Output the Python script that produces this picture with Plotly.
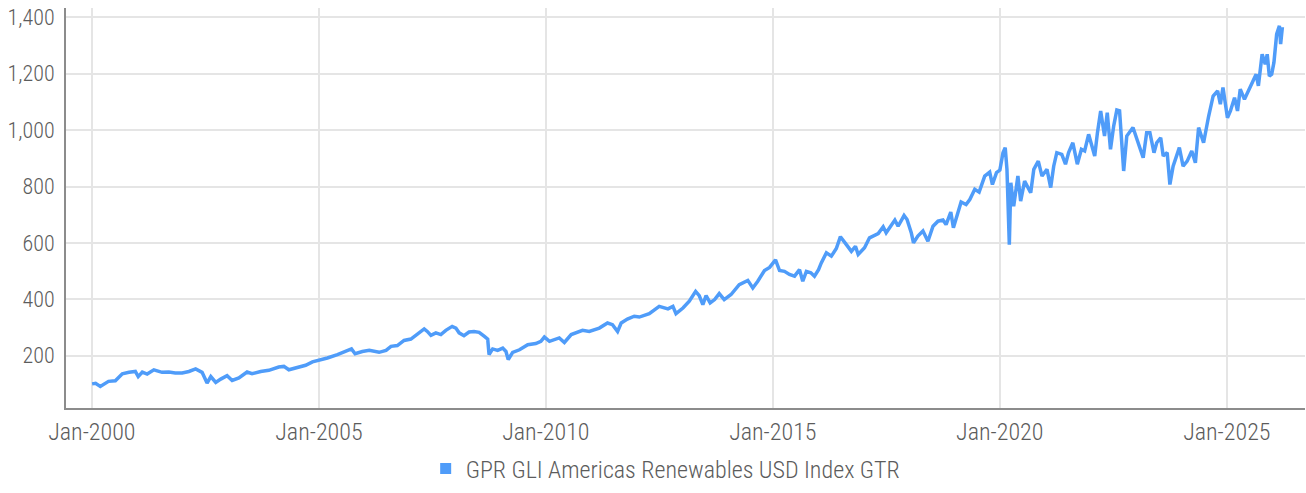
import plotly.graph_objects as go

SERIES_NAME = "GPR GLI Americas Renewables USD Index GTR"

dates = [
    "2000-01-03", "2000-01-31", "2000-03-09", "2000-05-14", "2000-07-08", "2000-09-02", "2000-10-26", "2000-12-16",
    "2001-01-08", "2001-02-10", "2001-03-21", "2001-05-14", "2001-07-19", "2001-09-12", "2001-11-02", "2001-12-28",
    "2002-02-20", "2002-04-15", "2002-06-06", "2002-07-16", "2002-08-15", "2002-09-24", "2002-11-03", "2002-12-24",
    "2003-02-03", "2003-03-29", "2003-06-03", "2003-07-13", "2003-09-20", "2003-11-25",
    "2004-02-13", "2004-03-25", "2004-05-04", "2004-07-12", "2004-09-16", "2004-11-10", "2004-12-28",
    "2005-03-10", "2005-05-30", "2005-07-24", "2005-09-20", "2005-10-19", "2005-12-16",
    "2006-02-10", "2006-03-21", "2006-04-30", "2006-06-25", "2006-08-04", "2006-09-24", "2006-11-17",
    "2007-01-11", "2007-03-04", "2007-04-28", "2007-05-23", "2007-06-21", "2007-07-31", "2007-09-09", "2007-10-19", "2007-12-09",
    "2008-01-08", "2008-02-03", "2008-03-13", "2008-04-23", "2008-06-02", "2008-07-13", "2008-08-22", "2008-09-20",
    "2008-10-01", "2008-10-30", "2008-12-09",
    "2009-01-19", "2009-02-14", "2009-03-04", "2009-04-09", "2009-06-03", "2009-08-08", "2009-10-12", "2009-11-22", "2009-12-20",
    "2010-01-30", "2010-04-19", "2010-05-30", "2010-07-24", "2010-10-23", "2010-12-16",
    "2011-03-07", "2011-05-12", "2011-06-21", "2011-08-01", "2011-08-30", "2011-10-19", "2011-12-13",
    "2012-01-23", "2012-04-12", "2012-07-01", "2012-09-09", "2012-10-19", "2012-11-13",
    "2013-01-08", "2013-02-28", "2013-04-20", "2013-05-19", "2013-06-17", "2013-07-13", "2013-08-15", "2013-09-20", "2013-10-27", "2013-12-06",
    "2014-01-30", "2014-04-06", "2014-06-14", "2014-07-24", "2014-09-02", "2014-10-26", "2014-12-06",
    "2015-01-23", "2015-02-24", "2015-04-05", "2015-05-15", "2015-06-25", "2015-08-04", "2015-08-30", "2015-09-28", "2015-11-03", "2015-12-02",
    "2016-01-04", "2016-01-26", "2016-03-07", "2016-04-16", "2016-05-26", "2016-06-28", "2016-08-15", "2016-09-24", "2016-10-27", "2016-11-18",
    "2017-01-08", "2017-02-17", "2017-04-28", "2017-06-07", "2017-07-01", "2017-09-09", "2017-10-05", "2017-11-22", "2017-12-16",
    "2018-01-19", "2018-02-06", "2018-03-13", "2018-04-23", "2018-06-02", "2018-07-13", "2018-08-22", "2018-10-01", "2018-10-26", "2018-12-03", "2018-12-24",
    "2019-02-24", "2019-04-05", "2019-05-05", "2019-06-14", "2019-07-19", "2019-09-02", "2019-10-12", "2019-11-03", "2019-12-06",
    "2020-01-02", "2020-01-27", "2020-02-14", "2020-02-28", "2020-03-18", "2020-03-30", "2020-04-22", "2020-05-26", "2020-06-17",
    "2020-07-19", "2020-09-06", "2020-10-01", "2020-11-06", "2020-12-06",
    "2021-01-15", "2021-02-14", "2021-03-10", "2021-04-04", "2021-05-14", "2021-06-13", "2021-07-08", "2021-08-11", "2021-09-16",
    "2021-10-19", "2021-11-14", "2021-12-16",
    "2022-02-03", "2022-02-25", "2022-03-23", "2022-04-23", "2022-05-15", "2022-06-10", "2022-07-06", "2022-07-31", "2022-08-22",
    "2022-09-24", "2022-10-19", "2022-12-08",
    "2023-01-18", "2023-02-28", "2023-03-28", "2023-04-23", "2023-05-26", "2023-06-17", "2023-07-19", "2023-08-08", "2023-09-09",
    "2023-10-01", "2023-10-27", "2023-12-16",
    "2024-01-15", "2024-02-17", "2024-03-25", "2024-04-23", "2024-05-19", "2024-06-06", "2024-06-28", "2024-08-08", "2024-09-13",
    "2024-10-19", "2024-11-10", "2024-12-01",
    "2025-01-06", "2025-01-30", "2025-03-04", "2025-03-28", "2025-04-19", "2025-05-23", "2025-06-17", "2025-07-24", "2025-08-25",
    "2025-09-12", "2025-10-12", "2025-11-06", "2025-11-22", "2025-12-09", "2025-12-28",
    "2026-01-15", "2026-02-06", "2026-02-28", "2026-03-10", "2026-03-24",
]

index_values = [
    100, 102, 91, 109, 111, 136, 141, 144,
    126, 142, 135, 150, 141, 142, 139, 139,
    144, 153, 141, 103, 126, 105, 117, 129,
    112, 121, 142, 136, 144, 148,
    160, 162, 150, 158, 166, 178, 183,
    192, 204, 215, 224, 207, 215,
    219, 215, 212, 219, 233, 236, 254,
    259, 275, 295, 286, 272, 281, 275, 290, 304,
    298, 281, 271, 284, 286, 283, 269, 259,
    204, 224, 219,
    227, 215, 186, 212, 221, 239, 243, 251, 266,
    251, 263, 247, 275, 290, 286,
    298, 316, 310, 286, 316, 330, 340,
    337, 349, 375, 366, 375, 349,
    369, 393, 428, 413, 381, 413, 387, 399, 420, 399,
    417, 452, 467, 440, 464, 502, 513,
    540, 502, 499, 488, 482, 505, 464, 499, 494, 482,
    505, 529, 565, 553, 580, 622, 594, 570, 588, 559,
    583, 618, 633, 657, 636, 681, 659, 697, 683,
    636, 600, 624, 642, 606, 659, 677, 681, 665, 709, 654,
    745, 736, 754, 790, 780, 837, 851, 807, 849,
    858, 920, 938, 861, 594, 813, 730, 837, 748,
    819, 778, 861, 890, 837,
    861, 796, 872, 920, 914, 879, 920, 955, 879,
    932, 926, 985,
    908, 991, 1068, 979, 1062, 932, 1015, 1071, 1068,
    855, 979, 1009,
    958, 902, 991, 991, 920, 955, 973, 908, 920,
    807, 872, 938,
    872, 890, 926, 884, 1009, 985, 955, 1050, 1121,
    1139, 1092, 1151,
    1044, 1068, 1115, 1068, 1145, 1109, 1133, 1162, 1198,
    1157, 1269, 1234, 1269, 1192, 1198,
    1240, 1340, 1370, 1305, 1365,
]

LINE_COLOR = "#4f9cf9"
FONT_FAMILY = "Roboto Condensed, Roboto, sans-serif"
TEXT_COLOR = "#5c5c5c"

fig = go.Figure()
fig.add_trace(go.Scatter(
    x=dates, y=index_values, mode="lines",
    line=dict(color=LINE_COLOR, width=3.5),
    name=SERIES_NAME, showlegend=False,
))
# legend entry with a square swatch
fig.add_trace(go.Scatter(
    x=[None], y=[None], mode="markers",
    marker=dict(symbol="square", size=11, color=LINE_COLOR),
    name=SERIES_NAME, showlegend=True,
))

fig.update_layout(
    width=1306, height=493,
    margin=dict(l=66, r=1, t=8, b=85),
    paper_bgcolor="white", plot_bgcolor="white",
    font=dict(family=FONT_FAMILY, size=24, color=TEXT_COLOR, weight=300),
    legend=dict(
        orientation="h", x=0.484, xanchor="center", y=-0.152, yanchor="middle",
        font=dict(family=FONT_FAMILY, size=24, color=TEXT_COLOR, weight=300),
        itemwidth=30, bgcolor="rgba(0,0,0,0)",
    ),
)
fig.update_xaxes(
    type="date",
    range=["1999-06-07", "2026-09-22"],
    tick0="2000-01-01", dtick="M60", tickformat="%b-%Y",
    showgrid=True, gridcolor="#e5e5e5", gridwidth=2,
    showline=True, linecolor="#8c8c8c", linewidth=2,
    ticks="", ticklabelstandoff=1, zeroline=False, automargin=False,
    tickfont=dict(family=FONT_FAMILY, size=24, color=TEXT_COLOR, weight=300),
)
fig.update_yaxes(
    range=[14.5, 1433],
    tick0=0, dtick=200, tickformat=",d",
    showgrid=True, gridcolor="#e5e5e5", gridwidth=2,
    showline=True, linecolor="#8c8c8c", linewidth=2,
    ticks="", ticklabelstandoff=5, zeroline=False, automargin=False,
    tickfont=dict(family=FONT_FAMILY, size=22, color=TEXT_COLOR, weight=300),
)

# remove the browser's default 8px page margin so the figure fills the window exactly
fig.write_html(
    "out.html",
    config={"displayModeBar": False},
    post_script="document.body.style.margin='0px';",
)
